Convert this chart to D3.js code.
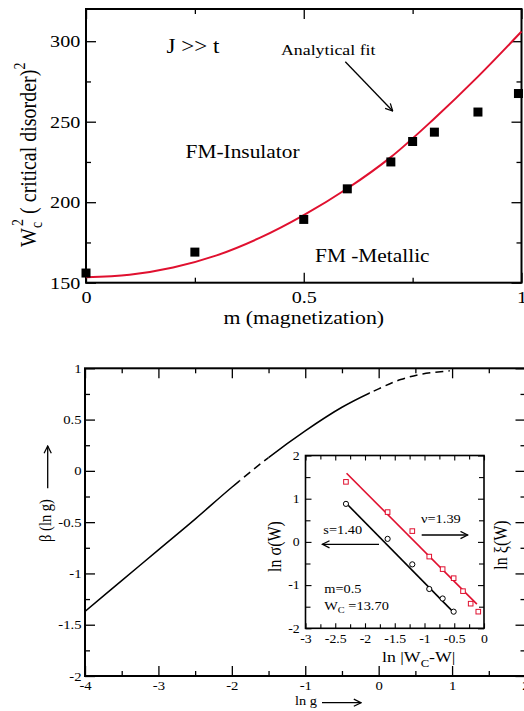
<!DOCTYPE html>
<html>
<head>
<meta charset="utf-8">
<script src="https://cdn.jsdelivr.net/npm/d3@7"></script>
<style>
  body { margin: 0; background: #fff; }
  svg text { font-family: "Liberation Serif", "Times New Roman", serif; fill: #000; }
</style>
</head>
<body>
<div id="chart"></div>
<script>
// ---- top panel: W_c^2 vs magnetization ----
var magM = [0, 0.25, 0.5, 0.6, 0.7, 0.75, 0.8, 0.9, 0.993];
var wc2 = [156, 169, 189.3, 208.3, 225, 237.7, 243.5, 256, 267.5];
// analytical fit (red)
var fitM = [0, 0.1, 0.2, 0.3, 0.4, 0.5, 0.6, 0.7, 0.8, 0.9, 1.0];
var fitW = [153.4, 155, 159.5, 167, 178, 192, 208.5, 228, 252, 278, 306];
var mTicks = [0, 0.5, 1];
var mMinor = [0.25, 0.75];
var wTicks = [150, 200, 250, 300];
var wMinor = [175, 225, 275];

// ---- bottom panel: beta(ln g) ----
var lnG = [-4, -3.5, -3, -2.5, -2, -1.5, -1, -0.5, 0, 0.3, 0.6, 0.97];
var betaVals = [-1.37, -1.07, -0.77, -0.47, -0.16, 0.13, 0.39, 0.62, 0.80, 0.89, 0.945, 0.975];
// pieces of the curve: start, end, dashed?
var segStart = [-4, -1.9, -1.5, -0.12];
var segEnd = [-1.9, -1.5, -0.12, 0.97];
var segDashed = [false, true, false, true];
var gTicks = [-4, -3, -2, -1, 0, 1, 2];
var gMinor = [-3.5, -2.5, -1.5, -0.5, 0.5, 1.5];
var bTicks = [-2, -1.5, -1, -0.5, 0, 0.5, 1];
var bMinor = [-1.75, -1.25, -0.75, -0.25, 0.25, 0.75];

// ---- inset: ln sigma and ln xi vs ln|Wc-W| ----
var sigX = [-2.32, -1.62, -1.205, -0.92, -0.695, -0.51];
var lnSigma = [0.88, 0.07, -0.52, -1.09, -1.31, -1.615];
var xiX = [-2.32, -1.62, -1.205, -0.92, -0.695, -0.51, -0.353, -0.224, -0.096];
var lnXi = [1.39, 0.69, 0.25, -0.34, -0.63, -0.84, -1.14, -1.43, -1.615];
var sigFitX = [-2.32, -0.49], sigFitY = [0.90, -1.66];
var xiFitX = [-2.31, -0.12], xiFitY = [1.59, -1.44];
var iTicksX = [-3, -2.5, -2, -1.5, -1, -0.5, 0];
var iMinorX = [-2.75, -2.25, -1.75, -1.25, -0.75, -0.25];
var iTicksY = [-2, -1, 0, 1, 2];
var iMinorY = [-1.5, -0.5, 0.5, 1.5];

var RED = "#e0102f";
var SX = 1.15; // the picture's lettering is a bit wide

var svg = d3.select("#chart").append("svg")
  .attr("width", 524)
  .attr("height", 711);

var defs = svg.append("defs");
defs.append("marker")
  .attr("id", "head")
  .attr("viewBox", "0 0 10 10")
  .attr("refX", 9).attr("refY", 5)
  .attr("markerWidth", 9).attr("markerHeight", 9)
  .attr("markerUnits", "userSpaceOnUse")
  .attr("orient", "auto")
  .append("path")
  .attr("d", "M1,1 L9,5 L1,9")
  .attr("fill", "none")
  .attr("stroke", "#000")
  .attr("stroke-width", 1.4);

function label(x, y, txt, size, anchor, rot) {
  return svg.append("text")
    .attr("transform", "translate(" + x + "," + y + ") scale(" + SX + ",1)" + (rot ? " rotate(" + rot + ")" : ""))
    .attr("font-size", size)
    .attr("text-anchor", anchor || "start")
    .text(txt);
}

function arrow(x1, y1, x2, y2) {
  svg.append("line")
    .attr("x1", x1).attr("y1", y1).attr("x2", x2).attr("y2", y2)
    .attr("stroke", "#000").attr("stroke-width", 1.3)
    .attr("marker-end", "url(#head)");
}

// draw one side of ticks (inward), with or without labels
function side(axisFn, scale, vals, size, pos, opts) {
  opts = opts || {};
  var ax = axisFn(scale).tickValues(vals).tickSizeInner(-size).tickSizeOuter(0)
    .tickPadding(opts.pad || 0)
    .tickFormat(opts.fs ? function(d) { return String(d); } : "");
  var g = svg.append("g")
    .attr("transform", pos)
    .call(ax);
  g.attr("font-family", null).attr("font-size", opts.fs || 10);
  g.select(".domain").remove();
  g.selectAll("line").attr("stroke-width", opts.sw || 1.3);
  g.selectAll("text").attr("transform", "scale(" + SX + ",1)");
  return g;
}

// ================= TOP PANEL =================
var tp = { l: 86, r: 521.5, t: 9, b: 282.7 };
var xM = d3.scaleLinear().domain([0, 1]).range([tp.l, tp.r]);
var yW = d3.scaleLinear().domain([150, 320]).range([tp.b, tp.t]);

side(d3.axisBottom, xM, mTicks, 10, "translate(0," + tp.b + ")", { pad: 8, fs: 17.5 });
side(d3.axisBottom, xM, mMinor, 5, "translate(0," + tp.b + ")");
side(d3.axisTop, xM, mTicks, 10, "translate(0," + tp.t + ")");
side(d3.axisTop, xM, mMinor, 5, "translate(0," + tp.t + ")");
side(d3.axisLeft, yW, wTicks, 10, "translate(" + tp.l + ",0)", { pad: 5, fs: 17.5 });
side(d3.axisLeft, yW, wMinor, 5, "translate(" + tp.l + ",0)");
side(d3.axisRight, yW, wTicks, 10, "translate(" + tp.r + ",0)");
side(d3.axisRight, yW, wMinor, 5, "translate(" + tp.r + ",0)");

svg.append("rect")
  .attr("x", tp.l).attr("y", tp.t)
  .attr("width", tp.r - tp.l).attr("height", tp.b - tp.t)
  .attr("fill", "none").attr("stroke", "#000").attr("stroke-width", 2);

var fitLine = d3.line()
  .x(function(d, i) { return xM(fitM[i]); })
  .y(function(d) { return yW(d); })
  .curve(d3.curveCatmullRom);

svg.append("path")
  .attr("d", fitLine(fitW))
  .attr("fill", "none").attr("stroke", RED).attr("stroke-width", 2);

svg.selectAll(".sq")
  .data(wc2)
  .enter()
  .append("rect")
  .attr("class", "sq")
  .attr("x", function(d, i) { return xM(magM[i]) - 4.5; })
  .attr("y", function(d) { return yW(d) - 4.5; })
  .attr("width", 9).attr("height", 9)
  .attr("fill", "#000");

label(166.5, 53, "J >> t", 20);
label(281, 55, "Analytical fit", 15.5);
arrow(345.3, 61.7, 392.7, 111);
label(185.5, 158.3, "FM-Insulator", 18.6);
label(315, 261.5, "FM -Metallic", 18.6);
label((tp.l + tp.r) / 2, 323.5, "m (magnetization)", 19, "middle");

var yl = svg.append("text")
  .attr("transform", "translate(36,247) scale(" + SX + ",1) rotate(-90)")
  .attr("font-size", 20);
yl.append("tspan").text("W");
yl.append("tspan").attr("font-size", 14).attr("dy", 5).text("c");
yl.append("tspan").attr("font-size", 14).attr("dx", -4).attr("dy", -16).text("2");
yl.append("tspan").attr("dy", 11).text(" ( critical disorder)");
yl.append("tspan").attr("font-size", 14).attr("dy", -10).text("2");

// ================= BOTTOM PANEL =================
var bp = { l: 85, r: 525.5, t: 368.3, b: 676 };
var xG = d3.scaleLinear().domain([-4, 2]).range([bp.l, bp.r]);
var yB = d3.scaleLinear().domain([-2, 1]).range([bp.b, bp.t]);

side(d3.axisBottom, xG, gTicks, 10, "translate(0," + bp.b + ")", { pad: 5, fs: 12.8 });
side(d3.axisBottom, xG, gMinor, 5, "translate(0," + bp.b + ")");
side(d3.axisTop, xG, gTicks, 10, "translate(0," + bp.t + ")");
side(d3.axisTop, xG, gMinor, 5, "translate(0," + bp.t + ")");
side(d3.axisLeft, yB, bTicks, 10, "translate(" + bp.l + ",0)", { pad: 3, fs: 12.8 });
side(d3.axisLeft, yB, bMinor, 5, "translate(" + bp.l + ",0)");
side(d3.axisRight, yB, bTicks, 10, "translate(" + bp.r + ",0)");
side(d3.axisRight, yB, bMinor, 5, "translate(" + bp.r + ",0)");

svg.append("rect")
  .attr("x", bp.l).attr("y", bp.t)
  .attr("width", bp.r - bp.l).attr("height", bp.b - bp.t)
  .attr("fill", "none").attr("stroke", "#000").attr("stroke-width", 2);

// one smooth curve, shown solid or dashed piece by piece through clip strips
var betaLine = d3.line()
  .x(function(d, i) { return xG(lnG[i]); })
  .y(function(d) { return yB(d); })
  .curve(d3.curveCatmullRom);

segStart.forEach(function(s, k) {
  defs.append("clipPath").attr("id", "seg" + k)
    .append("rect")
    .attr("x", xG(s)).attr("y", 0)
    .attr("width", xG(segEnd[k]) - xG(s)).attr("height", 711);
  svg.append("path")
    .attr("d", betaLine(betaVals))
    .attr("clip-path", "url(#seg" + k + ")")
    .attr("fill", "none").attr("stroke", "#000").attr("stroke-width", 1.5)
    .attr("stroke-dasharray", segDashed[k] ? "8,5" : null);
});

label(51, 520.5, "\u03b2  (ln g)", 14.5, "middle", -90);
arrow(47.7, 488.3, 47.7, 446);
label(295, 704.5, "ln g", 12.5);
arrow(322, 702.7, 361, 702.7);

// ================= INSET =================
var ip = { l: 305.5, r: 484, t: 455.5, b: 628.3 };
var xI = d3.scaleLinear().domain([-3, 0]).range([ip.l, ip.r]);
var yI = d3.scaleLinear().domain([-2, 2]).range([ip.b, ip.t]);

svg.append("rect")
  .attr("x", ip.l).attr("y", ip.t)
  .attr("width", ip.r - ip.l).attr("height", ip.b - ip.t)
  .attr("fill", "#fff");

side(d3.axisBottom, xI, iTicksX, 5, "translate(0," + ip.b + ")", { pad: 6.5, fs: 12, sw: 1.1 });
side(d3.axisBottom, xI, iMinorX, 4, "translate(0," + ip.b + ")", { sw: 1.1 });
side(d3.axisTop, xI, iTicksX, 5, "translate(0," + ip.t + ")", { sw: 1.1 });
side(d3.axisTop, xI, iMinorX, 4, "translate(0," + ip.t + ")", { sw: 1.1 });
side(d3.axisLeft, yI, iTicksY, 6, "translate(" + ip.l + ",0)", { pad: 5, fs: 12, sw: 1.1 });
side(d3.axisLeft, yI, iMinorY, 5, "translate(" + ip.l + ",0)", { sw: 1.1 });
side(d3.axisRight, yI, iTicksY, 6, "translate(" + ip.r + ",0)", { sw: 1.1 });
side(d3.axisRight, yI, iMinorY, 5, "translate(" + ip.r + ",0)", { sw: 1.1 });

svg.append("rect")
  .attr("x", ip.l).attr("y", ip.t)
  .attr("width", ip.r - ip.l).attr("height", ip.b - ip.t)
  .attr("fill", "none").attr("stroke", "#000").attr("stroke-width", 1.6);

var fitI = d3.line()
  .x(function(d) { return xI(d[0]); })
  .y(function(d) { return yI(d[1]); });

svg.append("path")
  .attr("d", fitI(sigFitX.map(function(x, i) { return [x, sigFitY[i]]; })))
  .attr("stroke", "#000").attr("stroke-width", 1.6).attr("fill", "none");
svg.append("path")
  .attr("d", fitI(xiFitX.map(function(x, i) { return [x, xiFitY[i]]; })))
  .attr("stroke", RED).attr("stroke-width", 1.6).attr("fill", "none");

svg.selectAll(".circ")
  .data(lnSigma)
  .enter()
  .append("circle")
  .attr("class", "circ")
  .attr("cx", function(d, i) { return xI(sigX[i]); })
  .attr("cy", function(d) { return yI(d); })
  .attr("r", 2.6)
  .attr("fill", "#fff").attr("stroke", "#000").attr("stroke-width", 1);

svg.selectAll(".rsq")
  .data(lnXi)
  .enter()
  .append("rect")
  .attr("class", "rsq")
  .attr("x", function(d, i) { return xI(xiX[i]) - 2.3; })
  .attr("y", function(d) { return yI(d) - 2.3; })
  .attr("width", 4.6).attr("height", 4.6)
  .attr("fill", "#fff").attr("stroke", RED).attr("stroke-width", 1);

label(323.3, 534, "s=1.40", 12.5);
arrow(379, 544.3, 322.3, 544.3);
label(421, 522.7, "\u03bd=1.39", 12.5);
arrow(421.7, 535, 467.7, 535);
label(324.3, 592.7, "m=0.5", 12.5);
var wcT = label(324.3, 610, "", 12.5);
wcT.append("tspan").text("W");
wcT.append("tspan").attr("font-size", 9).attr("dy", 3).text("C");
wcT.append("tspan").attr("dy", -3).text(" =13.70");

label(281, 546.5, "ln \u03c3(W)", 16, "middle", -90);
label(507, 545, "ln \u03be(W)", 16, "middle", -90);
var xlab = label(418.7, 661.5, "", 15.5, "middle");
xlab.append("tspan").text("ln |W");
xlab.append("tspan").attr("font-size", 11).attr("dy", 5).text("C");
xlab.append("tspan").attr("dy", -5).text("-W|");
</script>
</body>
</html>
